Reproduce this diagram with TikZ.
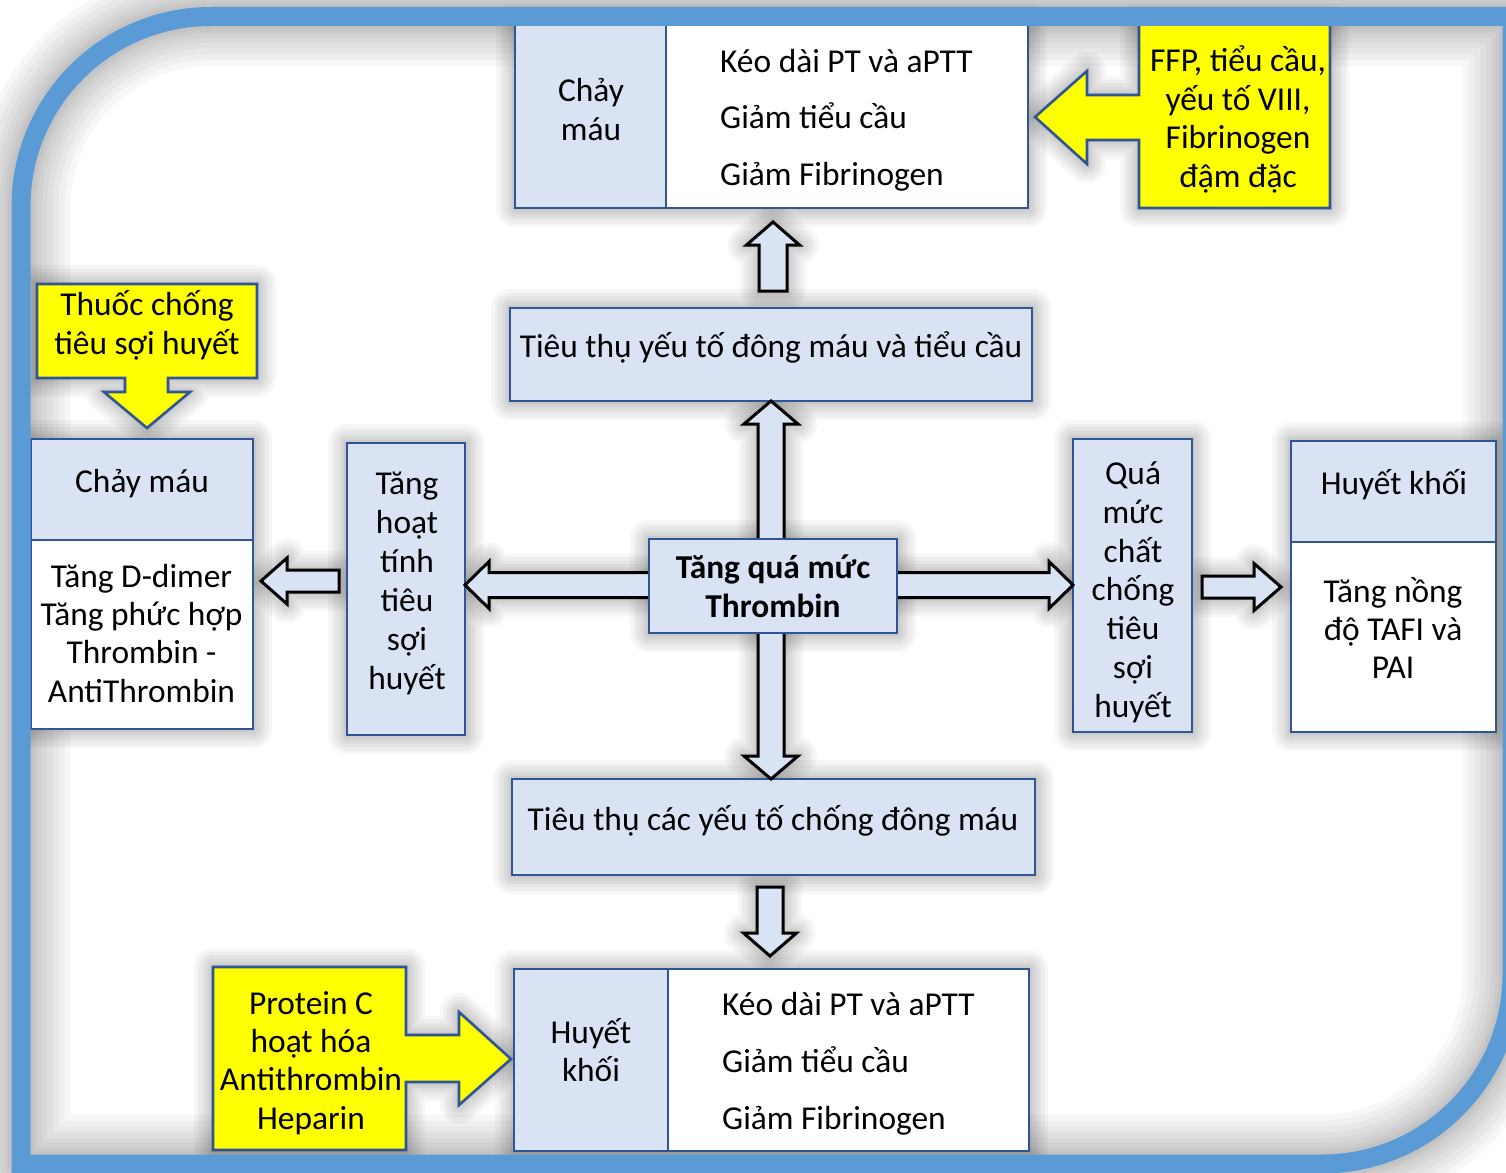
\documentclass[tikz,border=0pt]{standalone}
\usepackage{fontspec}
\setmainfont{Carlito}
\usetikzlibrary{calc}
\definecolor{frameblue}{HTML}{5B9BD5}
\definecolor{lblue}{HTML}{DAE3F3}
\definecolor{bborder}{HTML}{2F5597}
\definecolor{yel}{HTML}{FFFF00}
\pgfdeclarelayer{bg}
\pgfsetlayers{bg,main}
\tikzset{
  glowonly/.style={
    preaction={draw=black,draw opacity=.035,line width=38pt,line join=round},
    preaction={draw=black,draw opacity=.035,line width=31pt,line join=round},
    preaction={draw=black,draw opacity=.035,line width=24pt,line join=round},
    preaction={draw=black,draw opacity=.035,line width=17pt,line join=round},
    preaction={draw=black,draw opacity=.035,line width=11pt,line join=round},
    preaction={draw=black,draw opacity=.035,line width=6pt,line join=round}},
  frameglow/.style={
    preaction={draw=black,draw opacity=.03,line width=99pt,line join=round},
    preaction={draw=black,draw opacity=.03,line width=87pt,line join=round},
    preaction={draw=black,draw opacity=.03,line width=75pt,line join=round},
    preaction={draw=black,draw opacity=.03,line width=63pt,line join=round},
    preaction={draw=black,draw opacity=.03,line width=52pt,line join=round},
    preaction={draw=black,draw opacity=.03,line width=42pt,line join=round},
    preaction={draw=black,draw opacity=.03,line width=33pt,line join=round},
    preaction={draw=black,draw opacity=.03,line width=26pt,line join=round}},
  box/.style={draw=bborder,line width=2.6pt,inner sep=0pt,outer sep=0pt},
  bluebox/.style={box,fill=lblue},
  whitebox/.style={box,fill=white},
  yelshape/.style={draw=bborder,line width=2.6pt,fill=yel,line join=miter},
  barrow/.style={draw=black,line width=3pt,fill=lblue,line join=miter},
  txt/.style={font=\fontsize{33.4}{38.5}\selectfont,align=center,inner sep=0pt,anchor=base,yshift=-2pt},
  frameline/.style={draw=frameblue,line width=19pt,line join=miter}
}
% block arrows: #1 style, #2 tail, #3 tip, #4 shaft half width, #5 head half width, #6 head length
\newcommand\arrUp[6]{\path[#1] ($(#2)+(-#4,0)$) -- ($(#3)+(-#4,#6)$) -- ($(#3)+(-#5,#6)$) -- (#3) -- ($(#3)+(#5,#6)$) -- ($(#3)+(#4,#6)$) -- ($(#2)+(#4,0)$) -- cycle;}
\newcommand\arrDown[6]{\path[#1] ($(#2)+(-#4,0)$) -- ($(#3)+(-#4,-#6)$) -- ($(#3)+(-#5,-#6)$) -- (#3) -- ($(#3)+(#5,-#6)$) -- ($(#3)+(#4,-#6)$) -- ($(#2)+(#4,0)$) -- cycle;}
\newcommand\arrLeft[6]{\path[#1] ($(#2)+(0,-#4)$) -- ($(#3)+(#6,-#4)$) -- ($(#3)+(#6,-#5)$) -- (#3) -- ($(#3)+(#6,#5)$) -- ($(#3)+(#6,#4)$) -- ($(#2)+(0,#4)$) -- cycle;}
\newcommand\arrRight[6]{\path[#1] ($(#2)+(0,-#4)$) -- ($(#3)+(-#6,-#4)$) -- ($(#3)+(-#6,-#5)$) -- (#3) -- ($(#3)+(-#6,#5)$) -- ($(#3)+(-#6,#4)$) -- ($(#2)+(0,#4)$) -- cycle;}
% double arrows: #2 first tip (top/left), #3 second tip (bottom/right)
\newcommand\arrDblV[6]{\path[#1] (#2) -- ($(#2)+(#5,#6)$) -- ($(#2)+(#4,#6)$) -- ($(#3)+(#4,-#6)$) -- ($(#3)+(#5,-#6)$) -- (#3) -- ($(#3)+(-#5,-#6)$) -- ($(#3)+(-#4,-#6)$) -- ($(#2)+(-#4,#6)$) -- ($(#2)+(-#5,#6)$) -- cycle;}
\newcommand\arrDblH[6]{\path[#1] (#2) -- ($(#2)+(#6,-#5)$) -- ($(#2)+(#6,-#4)$) -- ($(#3)+(-#6,-#4)$) -- ($(#3)+(-#6,-#5)$) -- (#3) -- ($(#3)+(-#6,#5)$) -- ($(#3)+(-#6,#4)$) -- ($(#2)+(#6,#4)$) -- ($(#2)+(#6,#5)$) -- cycle;}
% callouts
\newcommand\ffpShape[1]{\path[#1] (1139,22) -- (1330,22) -- (1330,208) -- (1139,208) -- (1139,140) -- (1087,140) -- (1087,164) -- (1035,117) -- (1087,71) -- (1087,95) -- (1139,95) -- cycle;}
\newcommand\thuocShape[1]{\path[#1] (37,284) -- (257,284) -- (257,378) -- (168,378) -- (168,392) -- (190,392) -- (147,428) -- (104,392) -- (125,392) -- (125,378) -- (37,378) -- cycle;}
\newcommand\proteinShape[1]{\path[#1] (213,967) -- (406,967) -- (406,1035) -- (459,1035) -- (459,1012) -- (511,1059) -- (459,1105) -- (459,1082) -- (406,1082) -- (406,1150) -- (213,1150) -- cycle;}
\newcommand\framePath[1]{\path[#1] (1512,16.5) -- (211,16.5) .. controls (106,16.5) and (21,101.5) .. (21,206.5) -- (21,1164) -- (1322,1164) .. controls (1427,1164) and (1512,1079) .. (1512,974) -- cycle;}
\begin{document}
\begin{tikzpicture}[x=1pt,y=-1pt]
\useasboundingbox (0,0) rectangle (1506,1172);

% ---------- boxes ----------
\node[bluebox,minimum width=151,minimum height=186] (tlb) at (590.5,115) {};
\node[whitebox,minimum width=362,minimum height=186] (trb) at (847,115) {};
\node[bluebox,minimum width=522,minimum height=93] (tt1) at (771,354.5) {};
\node[bluebox,minimum width=222,minimum height=101] (lb1) at (142,489.5) {};
\node[whitebox,minimum width=222,minimum height=189] (lb2) at (142,634.5) {};
\node[bluebox,minimum width=118,minimum height=292] (hoat) at (406,589) {};
\node[bluebox,minimum width=119,minimum height=293] (qua) at (1132.5,585.5) {};
\node[bluebox,minimum width=205,minimum height=101] (rb1) at (1393.5,491.5) {};
\node[whitebox,minimum width=205,minimum height=190] (rb2) at (1393.5,637) {};
\node[bluebox,minimum width=523,minimum height=96] (tt2) at (773.5,827) {};
\node[bluebox,minimum width=154,minimum height=182] (blb) at (591,1060) {};
\node[whitebox,minimum width=361,minimum height=182] (brb) at (848.5,1060) {};

% ---------- arrow end coordinates ----------
\coordinate (a1tail) at (773,291);
\coordinate (a1tip) at (773,222);
\coordinate (a2top) at (tt1.south);
\coordinate (a2bot) at (tt1.south |- tt2.north);
\coordinate (a3l) at (hoat.east |- 0,585);
\coordinate (a3r) at (qua.west |- 0,585);
\coordinate (a4tail) at (339,581);
\coordinate (a4tip) at (261,581);
\coordinate (a5tail) at (1202,587);
\coordinate (a5tip) at (1281,587);
\coordinate (a6tail) at (770,887);
\coordinate (a6tip) at (770,956);

% ---------- glows (background) ----------
\begin{pgfonlayer}{bg}
  \fill[white] (0,0) rectangle (1506,1172);
  \framePath{frameglow}
  \path[glowonly] (tlb.north west) rectangle (trb.south east);
  \path[glowonly] (lb1.north west) rectangle (lb2.south east);
  \path[glowonly] (rb1.north west) rectangle (rb2.south east);
  \path[glowonly] (blb.north west) rectangle (brb.south east);
  \path[glowonly] (tt1.north west) rectangle (tt1.south east);
  \path[glowonly] (tt2.north west) rectangle (tt2.south east);
  \path[glowonly] (hoat.north west) rectangle (hoat.south east);
  \path[glowonly] (qua.north west) rectangle (qua.south east);
  \path[glowonly] (649,539) rectangle (897,633);
  \ffpShape{glowonly}
  \thuocShape{glowonly}
  \proteinShape{glowonly}
  \arrUp{glowonly}{a1tail}{a1tip}{14}{26.5}{23}
  \arrDblV{glowonly}{a2top}{a2bot}{13}{27}{23}
  \arrDblH{glowonly}{a3l}{a3r}{12.5}{23.5}{24}
  \arrLeft{glowonly}{a4tail}{a4tip}{11}{23}{26}
  \arrRight{glowonly}{a5tail}{a5tip}{11}{23.5}{27}
  \arrDown{glowonly}{a6tail}{a6tip}{13}{26.5}{23}
\end{pgfonlayer}

% ---------- block arrows ----------
\arrUp{barrow}{a1tail}{a1tip}{14}{26.5}{23}
\arrDblV{barrow}{a2top}{a2bot}{13}{27}{23}
\arrDblH{barrow}{a3l}{a3r}{12.5}{23.5}{24}
\arrLeft{barrow}{a4tail}{a4tip}{11}{23}{26}
\arrRight{barrow}{a5tail}{a5tip}{11}{23.5}{27}
\arrDown{barrow}{a6tail}{a6tip}{13}{26.5}{23}

% centre box drawn over the double arrows
\node[bluebox,minimum width=248,minimum height=94] (thr) at (773,586) {};

% ---------- callouts ----------
\ffpShape{yelshape}
\thuocShape{yelshape}
\proteinShape{yelshape}

% ---------- texts (multi-line nodes: base = last line's baseline) ----------
\node[txt] (tlt) at (591,138) {Chảy\\máu};
\node[txt,align=left,anchor=base west,font=\fontsize{33.4}{56.5}\selectfont] (trt) at (720,183)
  {Kéo dài PT và aPTT\\Giảm tiểu cầu\\Giảm Fibrinogen};
\node[txt] (ffpt) at (1238,185) {FFP, tiểu cầu,\\yếu tố VIII,\\Fibrinogen\\đậm đặc};
\node[txt] (tt1t) at (771,355) {Tiêu thụ yếu tố đông máu và tiểu cầu};
\node[txt,font=\fontsize{33.4}{38.5}\selectfont\bfseries] (thrt) at (773,615) {Tăng quá mức\\Thrombin};
\node[txt,font=\fontsize{33.4}{39}\selectfont] (hoatt) at (407,687) {Tăng\\hoạt\\tính\\tiêu\\sợi\\huyết};
\node[txt] (thuoct) at (147,352) {Thuốc chống\\tiêu sợi huyết};
\node[txt] (lb1t) at (142,490) {Chảy máu};
\node[txt,font=\fontsize{33.4}{38.3}\selectfont] (lb2t) at (141.5,700) {Tăng D-dimer\\Tăng phức hợp\\Thrombin -\\AntiThrombin};
\node[txt,font=\fontsize{33.4}{38.7}\selectfont] (quat) at (1133,715) {Quá\\mức\\chất\\chống\\tiêu\\sợi\\huyết};
\node[txt] (rb1t) at (1394,492) {Huyết khối};
\node[txt,font=\fontsize{33.4}{38}\selectfont] (rb2t) at (1393,676) {Tăng nồng\\độ TAFI và\\PAI};
\node[txt] (tt2t) at (773,828) {Tiêu thụ các yếu tố chống đông máu};
\node[txt,font=\fontsize{33.4}{38}\selectfont] (blt) at (591,1079) {Huyết\\khối};
\node[txt,align=left,anchor=base west,font=\fontsize{33.4}{57}\selectfont] (brt) at (722,1127)
  {Kéo dài PT và aPTT\\Giảm tiểu cầu\\Giảm Fibrinogen};
\node[txt,font=\fontsize{33.4}{38.3}\selectfont] (proteint) at (311,1127) {Protein C\\hoạt hóa\\Antithrombin\\Heparin};

% ---------- frame ----------
\framePath{frameline}
\end{tikzpicture}
\end{document}
